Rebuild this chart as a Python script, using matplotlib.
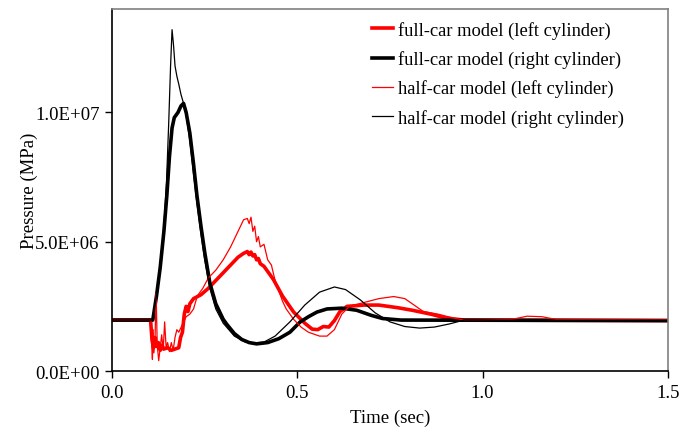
import matplotlib
matplotlib.use("Agg")
import matplotlib.pyplot as plt
from matplotlib.ticker import FuncFormatter

# ---- data (pressure in units of 1e6 Pa) ----
t_full_left = [0.0, 0.104, 0.108, 0.112, 0.116, 0.12, 0.125, 0.13, 0.135, 0.14, 0.15, 0.16, 0.17,
               0.18, 0.185, 0.19, 0.195, 0.2, 0.205, 0.21, 0.22, 0.24, 0.26, 0.28, 0.3, 0.32, 0.34,
               0.355, 0.365, 0.37, 0.375, 0.38, 0.385, 0.39, 0.395, 0.4, 0.41, 0.42, 0.435, 0.46,
               0.49, 0.52, 0.54, 0.555, 0.57, 0.585, 0.6, 0.615, 0.634, 0.68, 0.72, 0.77, 0.81,
               0.86, 0.9, 0.95, 1.5]
p_full_left = [1.97, 1.97, 1.2, 0.9, 1.3, 0.95, 1.1, 0.8, 1.0, 0.85, 0.9, 0.8, 0.85,
               0.9, 1.3, 1.5, 2.2, 2.5, 2.3, 2.6, 2.8, 2.95, 3.2, 3.5, 3.8, 4.1, 4.4,
               4.55, 4.62, 4.5, 4.6, 4.45, 4.5, 4.3, 4.35, 4.15, 4.05, 3.85, 3.55, 2.9,
               2.28, 1.85, 1.62, 1.6, 1.72, 1.7, 1.95, 2.3, 2.5, 2.55, 2.55, 2.45, 2.35,
               2.2, 2.05, 1.97, 1.95]

t_full_right = [0.0, 0.11, 0.12, 0.13, 0.14, 0.148, 0.155, 0.162, 0.168, 0.178, 0.186, 0.193, 0.2,
                0.21, 0.22, 0.229, 0.24, 0.25, 0.264, 0.28, 0.3, 0.31, 0.33, 0.35, 0.37, 0.39,
                0.42, 0.45, 0.48, 0.507, 0.53, 0.553, 0.58, 0.62, 0.66, 0.7, 0.73, 0.78, 1.5]
p_full_right = [1.97, 1.97, 2.9, 4.0, 5.4, 6.8, 8.3, 9.4, 9.8, 10.0, 10.25, 10.35, 10.0,
                9.2, 8.0, 6.8, 5.6, 4.6, 3.4, 2.6, 2.0, 1.8, 1.45, 1.22, 1.1, 1.05,
                1.1, 1.25, 1.5, 1.89, 2.1, 2.28, 2.4, 2.43, 2.35, 2.15, 2.03, 1.97, 1.95]

t_half_left = [0.0, 0.105, 0.107, 0.109, 0.111, 0.113, 0.116, 0.119, 0.122, 0.126, 0.13, 0.134,
               0.138, 0.142, 0.146, 0.15, 0.155, 0.16, 0.165, 0.17, 0.175, 0.18, 0.19, 0.2,
               0.21, 0.22, 0.23, 0.245, 0.26, 0.28, 0.3, 0.32, 0.34, 0.355, 0.365, 0.37, 0.375,
               0.38, 0.385, 0.39, 0.395, 0.4, 0.41, 0.42, 0.43, 0.44, 0.45, 0.46, 0.47, 0.49,
               0.51, 0.53, 0.56, 0.58, 0.6, 0.62, 0.64, 0.68, 0.72, 0.76, 0.79, 0.82, 0.84,
               0.88, 0.92, 0.95, 1.0, 1.08, 1.12, 1.16, 1.2, 1.5]
p_half_left = [1.97, 1.97, 1.0, 0.45, 1.6, 0.7, 1.2, 3.0, 1.0, 0.4, 0.9, 1.4,
               0.8, 1.9, 0.9, 1.1, 0.75, 1.1, 0.8, 1.3, 1.6, 1.5, 1.8, 2.1,
               2.2, 2.4, 2.9, 3.2, 3.6, 3.9, 4.3, 4.8, 5.4, 5.85, 5.9, 5.7, 5.95,
               5.4, 5.6, 5.0, 5.2, 4.8, 4.9, 4.3, 4.1, 3.5, 3.1, 2.7, 2.4, 2.0,
               1.7, 1.5, 1.35, 1.35, 1.6, 2.2, 2.5, 2.65, 2.8, 2.88, 2.8, 2.5, 2.3,
               2.2, 2.05, 1.97, 1.97, 2.0, 2.12, 2.1, 1.99, 1.97]

t_half_right = [0.0, 0.11, 0.12, 0.13, 0.14, 0.147, 0.153, 0.158, 0.162, 0.166, 0.17, 0.175,
                0.18, 0.186, 0.192, 0.2, 0.21, 0.22, 0.229, 0.24, 0.25, 0.264, 0.28, 0.3,
                0.33, 0.36, 0.38, 0.41, 0.44, 0.48, 0.52, 0.56, 0.6, 0.63, 0.67, 0.71, 0.75,
                0.79, 0.83, 0.87, 0.91, 0.95, 1.5]
p_half_right = [1.97, 1.97, 2.9, 4.0, 5.6, 7.3, 9.6, 11.8, 13.2, 12.6, 11.8, 11.4,
                11.1, 10.7, 10.4, 9.9, 8.9, 7.6, 6.5, 5.3, 4.3, 3.2, 2.4, 1.85,
                1.35, 1.12, 1.08, 1.12, 1.35, 1.9, 2.55, 3.05, 3.25, 3.15, 2.75, 2.25, 1.9,
                1.72, 1.66, 1.7, 1.82, 1.97, 1.95]

labels = ["full-car model (left cylinder)", "full-car model (right cylinder)",
          "half-car model (left cylinder)", "half-car model (right cylinder)"]
x_ticks = [0.0, 0.5, 1.0, 1.5]
y_ticks = [0.0, 5.0e6, 1.0e7]

plt.rcParams['font.family'] = ['Liberation Serif', 'DejaVu Serif']

fig = plt.figure(figsize=(6.94, 4.35), dpi=100)
ax = fig.add_axes([0.1614, 0.1448, 0.9625 - 0.1614, 0.977 - 0.1448])

scale = 1e6
ax.plot(t_full_left, [v * scale for v in p_full_left], color='#ff0000', lw=2.6, label=labels[0])
ax.plot(t_full_right, [v * scale for v in p_full_right], color='black', lw=2.6, label=labels[1])
ax.plot(t_half_left, [v * scale for v in p_half_left], color='#ff0000', lw=0.9, label=labels[2])
ax.plot(t_half_right, [v * scale for v in p_half_right], color='black', lw=0.9, label=labels[3])

ax.set_xlim(0, 1.5)
ax.set_ylim(0, 1.4e7)
ax.set_xticks(x_ticks)
ax.set_yticks(y_ticks)
ax.xaxis.set_major_formatter(FuncFormatter(lambda v, p: f"{v:.1f}"))
ax.yaxis.set_major_formatter(FuncFormatter(lambda v, p: f"{v:.1E}"))
ax.tick_params(direction='out', length=5, width=1, labelsize=13.5, pad=4)

for s in ['top', 'right']:
    ax.spines[s].set_color('#808080')
    ax.spines[s].set_linewidth(1.2)
for s in ['left', 'bottom']:
    ax.spines[s].set_color('black')
    ax.spines[s].set_linewidth(1.2)

ax.set_xlabel('Time (sec)', fontsize=13.5, labelpad=6)
ax.set_ylabel('Pressure (MPa)', fontsize=13.5, labelpad=-2)

ax.legend(loc='upper right', frameon=False, fontsize=13.3, handlelength=1.1,
          handletextpad=0.28, labelspacing=0.62, borderaxespad=0.0,
          bbox_to_anchor=(0.934, 0.988))

fig.savefig('out.png', dpi=100)
